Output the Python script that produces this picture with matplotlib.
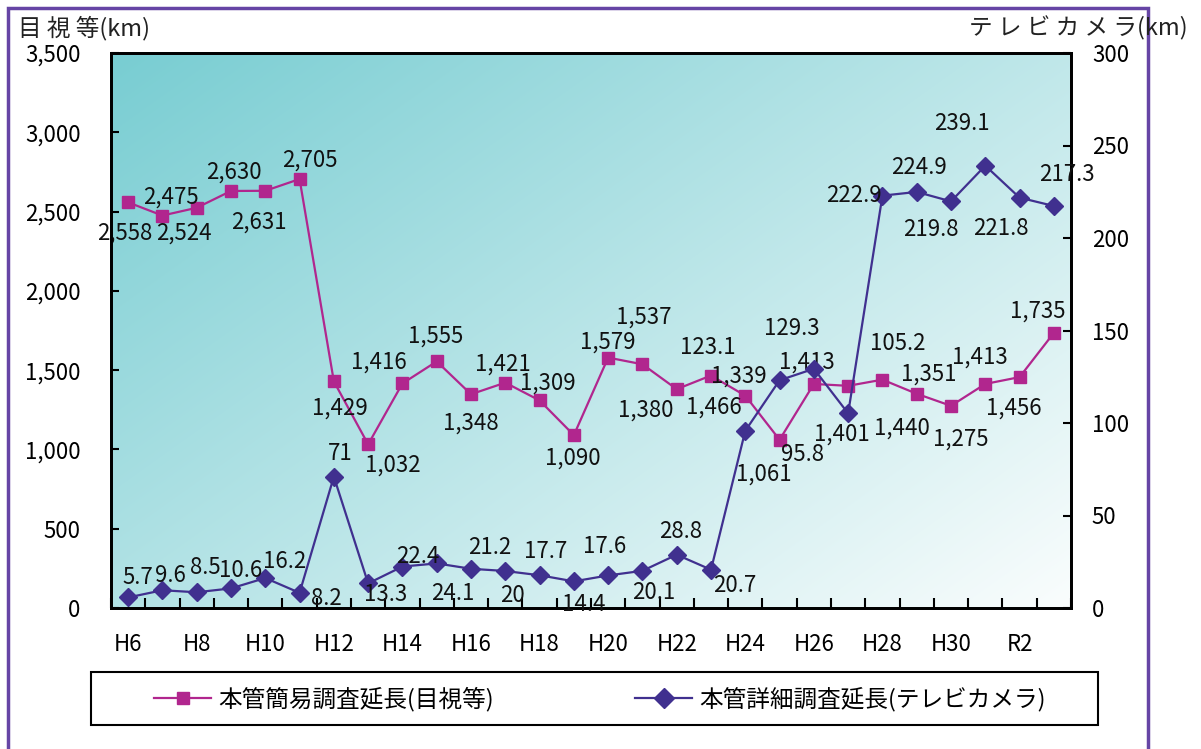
import matplotlib
matplotlib.use("Agg")
import matplotlib.pyplot as plt
import numpy as np
from matplotlib.patches import Rectangle

plt.rcParams['font.family'] = ['Noto Sans CJK JP', 'DejaVu Sans']

categories = ['H6', 'H7', 'H8', 'H9', 'H10', 'H11', 'H12', 'H13', 'H14', 'H15',
              'H16', 'H17', 'H18', 'H19', 'H20', 'H21', 'H22', 'H23', 'H24', 'H25',
              'H26', 'H27', 'H28', 'H29', 'H30', 'R1', 'R2', 'R3']
visual = [2558, 2475, 2524, 2630, 2631, 2705, 1429, 1032, 1416, 1555,
          1348, 1421, 1309, 1090, 1579, 1537, 1380, 1466, 1339, 1061,
          1413, 1401, 1440, 1351, 1275, 1413, 1456, 1735]
camera = [5.7, 9.6, 8.5, 10.6, 16.2, 8.2, 71, 13.3, 22.4, 24.1,
          21.2, 20, 17.7, 14.4, 17.6, 20.1, 28.8, 20.7, 95.8, 123.1,
          129.3, 105.2, 222.9, 224.9, 219.8, 239.1, 221.8, 217.3]
camera_labels = ['5.7', '9.6', '8.5', '10.6', '16.2', '8.2', '71', '13.3', '22.4', '24.1',
                 '21.2', '20', '17.7', '14.4', '17.6', '20.1', '28.8', '20.7', '95.8', '123.1',
                 '129.3', '105.2', '222.9', '224.9', '219.8', '239.1', '221.8', '217.3']
left_ticks = [0, 500, 1000, 1500, 2000, 2500, 3000, 3500]
right_ticks = [0, 50, 100, 150, 200, 250, 300]
series_names = ['本管簡易調査延長(目視等)', '本管詳細調査延長(テレビカメラ)']

# label offsets in pixels (dx, dy with y up)
vis_off = [(-3, -31), (8, 18), (-13, -25), (3, 19), (-6, -31), (10, 19), (6, -27), (25, -21),
           (-24, 21), (-1, 25), (0, -29), (-2, 19), (8, 17), (-1, -23), (0, 16), (1, 47),
           (-31, -21), (3, -32), (-6, 20), (-16, -34), (-7, 22), (-6, -48), (20, -48), (12, 20),
           (10, -33), (-5, 27), (-6, -31), (-16, 22)]
cam_off = [(10, 20), (8, 15), (9, 25), (10, 18), (19, 17), (27, -6), (6, 23), (17, -11),
           (15, 10), (16, -30), (19, 21), (7, -25), (6, 24), (10, -23), (-4, 29), (11, -22),
           (4, 23), (24, -16), (57, -24), (-72, 33), (-22, 40), (50, 70), (-29, 0), (2, 24),
           (-20, -28), (-23, 42), (-19, -31), (13, 31)]

W, H = 1201, 749
fig = plt.figure(figsize=(W / 100, H / 100), dpi=100)

# outer purple frame
fig.patches.append(Rectangle((8 / W, -0.05), (1148 - 8) / W, 1 - 8 / H + 0.05,
                             transform=fig.transFigure, fill=False,
                             edgecolor='#6645A5', linewidth=2.5, zorder=0))

ax = fig.add_axes([111 / W, 1 - 608 / H, (1071 - 111) / W, (608 - 53) / H])
n = len(categories)
x = np.arange(n)

# diagonal gradient background (row 0 = top)
gx, gy = np.meshgrid(np.linspace(0, 960, 240), np.linspace(0, 555, 140))
t = (gx + 1.4 * gy) / (960 + 1.4 * 555)
t = np.clip(t, 0, 1)
c0 = np.array([0x78, 0xCD, 0xD2]) / 255
c1 = np.array([0xFA, 0xFD, 0xFD]) / 255
img = c0[None, None, :] * (1 - t[..., None]) + c1[None, None, :] * t[..., None]
ax.imshow(img, extent=[-0.5, n - 0.5, 0, 3500], origin='upper', aspect='auto',
          zorder=0, interpolation='bilinear')
ax.set_xlim(-0.5, n - 0.5)
ax.set_ylim(0, 3500)

mag = '#B1268E'
blu = '#40308F'
FS = 16
ax.plot(x, visual, color=mag, lw=1.6, marker='s', ms=8.5, mfc=mag, mec=mag, zorder=3)

for xi, v, (dx, dy) in zip(x, visual, vis_off):
    ax.annotate(f'{v:,}', (xi, v), xytext=(dx, dy), textcoords='offset pixels',
                ha='center', va='center', fontsize=FS, color='#111111',
                annotation_clip=False, zorder=6)

ax.set_yticks(left_ticks)
ax.set_yticklabels([f'{v:,}' for v in left_ticks])
ax.tick_params(axis='y', direction='in', length=6, width=1.5, pad=22, labelsize=FS)
ax.set_xticks(x[::2])
ax.set_xticklabels(categories[::2])
ax.set_xticks(np.arange(n + 1) - 0.5, minor=True)
ax.tick_params(axis='x', which='major', length=0, pad=18, labelsize=FS)
ax.tick_params(axis='x', which='minor', direction='in', length=7, width=1.5)
for sp in ax.spines.values():
    sp.set_linewidth(2)
    sp.set_color('black')

ax2 = ax.twinx()
ax2.set_ylim(0, 300)
ax2.plot(x, camera, color=blu, lw=1.6, marker='D', ms=9.5, mfc=blu, mec=blu, zorder=4)
for xi, v, lab, (dx, dy) in zip(x, camera, camera_labels, cam_off):
    ax2.annotate(lab, (xi, v), xytext=(dx, dy), textcoords='offset pixels',
                 ha='center', va='center', fontsize=FS, color='#111111',
                 annotation_clip=False, zorder=6)
ax2.set_yticks(right_ticks)
ax2.tick_params(axis='y', direction='in', length=6, width=1.5, pad=15, labelsize=FS)
for sp in ax2.spines.values():
    sp.set_linewidth(2)
    sp.set_color('black')

# axis titles
fig.text(18 / W, 1 - 28 / H, '目 視 等(km)', fontsize=17, ha='left', va='center', color='#222222')
fig.text(1188 / W, 1 - 28 / H, 'テ レ ビ カ メ ラ(km)', fontsize=17, ha='right', va='center',
         color='#222222')

# legend frame + legend
fig.patches.append(Rectangle((91 / W, 1 - 725 / H), (1098 - 91) / W, (725 - 672) / H,
                             transform=fig.transFigure, fill=True, facecolor='white',
                             edgecolor='black', linewidth=1.5, zorder=1))
lh = [plt.Line2D([], [], color=mag, lw=1.6, marker='s', ms=8, mfc=mag, mec=mag),
      plt.Line2D([], [], color=blu, lw=1.6, marker='D', ms=10, mfc=blu, mec=blu)]
leg = fig.legend(lh, series_names, loc='center',
                 bbox_to_anchor=(600 / W, 1 - 699 / H),
                 ncol=2, frameon=False, fontsize=17, handlelength=2.4,
                 handletextpad=0.3, columnspacing=6.0)

fig.savefig('out.png', dpi=100)
